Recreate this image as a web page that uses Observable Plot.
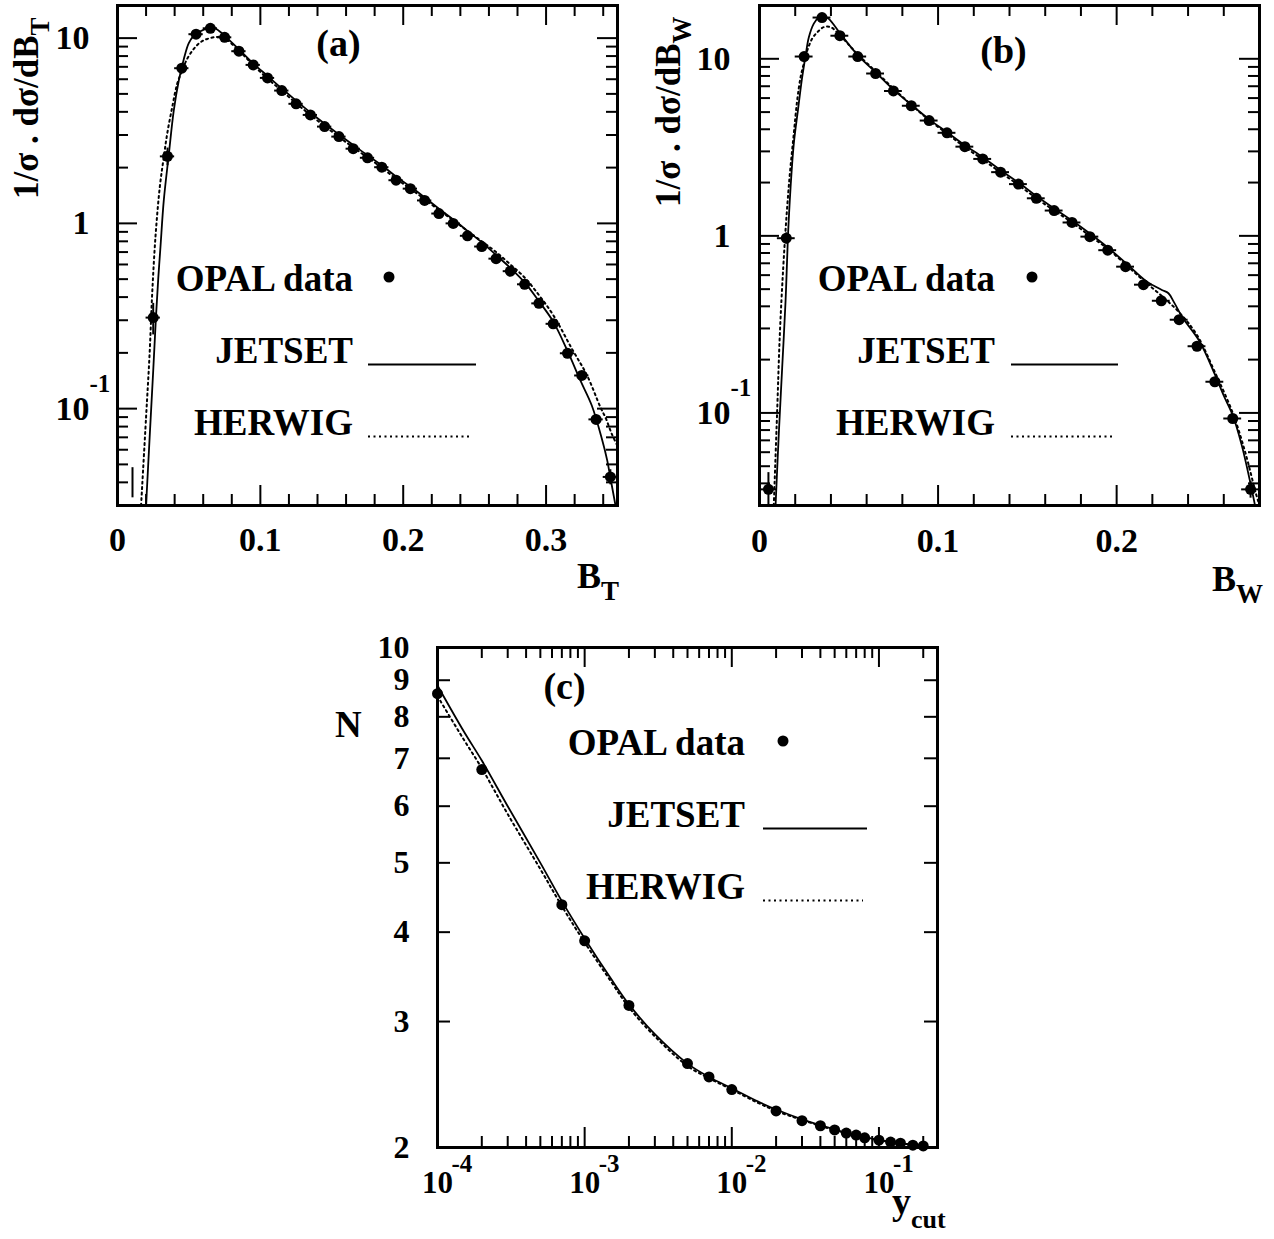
<!DOCTYPE html>
<html><head><meta charset="utf-8">
<script src="https://cdn.jsdelivr.net/npm/d3@7"></script>
<script src="https://cdn.jsdelivr.net/npm/@observablehq/plot@0.6"></script>
<style>
body{margin:0;background:#fff;}
#wrap{position:relative;width:1274px;height:1239px;background:#fff;}
#wrap svg{position:absolute;overflow:visible;}
</style></head><body><div id="wrap"></div>
<script>
// ---------- Panel (a): B_T ----------
const aX = [0.025,0.035,0.045,0.055,0.065,0.075,0.085,0.095,0.105,0.115,0.125,0.135,0.145,0.155,0.165,0.175,0.185,0.195,0.205,0.215,0.225,0.235,0.245,0.255,0.265,0.275,0.285,0.295,0.305,0.315,0.325,0.335,0.345];
const aY = [0.31,2.30,6.88,10.5,11.3,10.1,8.5,7.17,6.1,5.21,4.42,3.85,3.33,2.94,2.53,2.26,2.01,1.71,1.54,1.33,1.13,1.0,0.857,0.75,0.645,0.552,0.469,0.37,0.287,0.199,0.151,0.0875,0.0428];
const aErr = [0.06,0.25,0.3,0.3,0.3,0.3,0.25,0.2,0.18,0.15,0.13,0.11,0.1,0.09,0.08,0.07,0.06,0.05,0.05,0.04,0.035,0.03,0.027,0.024,0.021,0.018,0.016,0.013,0.011,0.008,0.007,0.005,0.004];
const aStrayX = [0.0105], aStrayLo = [0.033], aStrayHi = [0.048];
const aJetX = [0.020,0.0225,0.025,0.0269,0.0285,0.0301,0.0324,0.0359,0.0394,0.0429,0.0464,0.0499,0.0534,0.0581,0.0628,0.0663,0.0721,0.0768,0.085,0.095,0.105,0.115,0.125,0.135,0.145,0.155,0.165,0.175,0.185,0.195,0.205,0.215,0.225,0.235,0.245,0.255,0.265,0.275,0.285,0.295,0.305,0.315,0.324,0.332,0.339,0.3428,0.345,0.3486];
const aJetY = [0.03,0.07,0.16,0.31,0.5,0.75,1.33,2.35,4.07,5.9,7.7,9.4,10.3,10.9,11.3,11.45,10.8,10.0,8.7,7.3,6.25,5.35,4.6,3.97,3.45,3.02,2.65,2.33,2.06,1.79,1.58,1.38,1.2,1.05,0.91,0.79,0.675,0.575,0.48,0.38,0.295,0.205,0.142,0.104,0.069,0.0526,0.0425,0.03];
const aHerX = [0.0165,0.02,0.0225,0.0243,0.0266,0.0296,0.0324,0.0348,0.0383,0.0418,0.0453,0.0488,0.0534,0.0581,0.0628,0.0698,0.0744,0.085,0.095,0.105,0.115,0.125,0.135,0.145,0.155,0.165,0.175,0.185,0.195,0.205,0.215,0.225,0.235,0.245,0.255,0.265,0.275,0.285,0.295,0.305,0.318,0.3287,0.338,0.342,0.346,0.35];
const aHerY = [0.03,0.09,0.2,0.42,0.85,1.57,2.28,3.05,4.24,5.67,6.69,7.73,8.75,9.5,9.9,10.15,10.05,8.55,7.15,6.05,5.2,4.45,3.85,3.35,2.93,2.57,2.27,2.0,1.74,1.54,1.35,1.18,1.04,0.91,0.8,0.7,0.6,0.51,0.41,0.32,0.211,0.151,0.102,0.088,0.073,0.063];
const aXTicks = [0,0.1,0.2,0.3];
const aXMinor = [0.02,0.04,0.06,0.08,0.12,0.14,0.16,0.18,0.22,0.24,0.26,0.28,0.32,0.34];
const aYTicks = [0.1,1,10];

// ---------- Panel (b): B_W ----------
const bX = [0.005,0.015,0.025,0.035,0.045,0.055,0.065,0.075,0.085,0.095,0.105,0.115,0.125,0.135,0.145,0.155,0.165,0.175,0.185,0.195,0.205,0.215,0.225,0.235,0.245,0.255,0.265,0.275];
const bY = [0.037,0.97,10.3,17.1,13.5,10.3,8.26,6.58,5.43,4.48,3.82,3.19,2.72,2.29,1.96,1.63,1.39,1.19,0.99,0.83,0.67,0.53,0.43,0.336,0.238,0.150,0.093,0.037];
const bErr = [0.009,0.07,0.3,0.4,0.3,0.25,0.2,0.16,0.13,0.11,0.09,0.08,0.07,0.06,0.05,0.04,0.035,0.03,0.025,0.022,0.018,0.015,0.012,0.01,0.008,0.006,0.005,0.004];
const bJetX = [0.009,0.0108,0.0127,0.0146,0.0159,0.0174,0.0192,0.0215,0.0239,0.0258,0.0276,0.0304,0.0332,0.0351,0.0388,0.0454,0.055,0.065,0.075,0.085,0.095,0.105,0.115,0.125,0.135,0.145,0.155,0.165,0.175,0.185,0.195,0.206,0.2166,0.2253,0.229,0.232,0.2368,0.2464,0.255,0.26,0.265,0.27,0.2745,0.2775];
const bJetY = [0.03,0.076,0.18,0.43,0.975,1.88,3.31,5.1,7.87,10.4,13.2,15.8,17.2,17.6,16.8,13.8,10.5,8.4,6.7,5.5,4.55,3.85,3.25,2.78,2.35,2.0,1.68,1.43,1.22,1.03,0.86,0.69,0.555,0.495,0.474,0.424,0.347,0.254,0.165,0.125,0.097,0.066,0.042,0.03];
const bHerX = [0.008,0.0099,0.0114,0.0133,0.0151,0.017,0.0192,0.0211,0.023,0.0248,0.0267,0.0295,0.0323,0.036,0.0398,0.0435,0.05,0.055,0.065,0.075,0.085,0.095,0.105,0.115,0.125,0.135,0.145,0.155,0.165,0.175,0.185,0.195,0.205,0.215,0.225,0.235,0.245,0.255,0.265,0.272,0.278,0.28];
const bHerY = [0.03,0.103,0.28,0.665,1.28,2.24,3.77,5.82,7.87,9.4,11.1,13.0,14.1,15.1,15.1,14.1,12.0,10.6,8.5,6.8,5.5,4.5,3.78,3.17,2.7,2.28,1.94,1.63,1.39,1.19,1.0,0.845,0.69,0.56,0.46,0.37,0.275,0.17,0.1,0.06,0.035,0.03];
const bXTicks = [0,0.1,0.2];
const bXMinor = [0.02,0.04,0.06,0.08,0.12,0.14,0.16,0.18,0.22,0.24,0.26];
const bYTicks = [0.1,1,10];

// ---------- Panel (c): N vs y_cut ----------
const cX = [1e-4,2e-4,7e-4,1e-3,2e-3,5e-3,7e-3,1e-2,2e-2,3e-2,4e-2,5e-2,6e-2,7e-2,8e-2,0.1,0.12,0.14,0.17,0.2];
const cY = [8.62,6.75,4.37,3.89,3.16,2.62,2.51,2.41,2.25,2.18,2.145,2.116,2.095,2.082,2.063,2.048,2.035,2.028,2.015,2.01];
const cJetX = [1e-4,1.5e-4,2e-4,3e-4,5e-4,7e-4,1e-3,1.5e-3,2e-3,3e-3,5e-3,7e-3,1e-2,1.5e-2,2e-2,3e-2,5e-2,7e-2,0.1,0.14,0.2];
const cJetY = [8.85,7.65,6.95,6.0,5.0,4.42,3.92,3.45,3.17,2.88,2.62,2.51,2.42,2.32,2.26,2.19,2.12,2.08,2.05,2.028,2.01];
const cHerX = [1e-4,1.5e-4,2e-4,3e-4,5e-4,7e-4,1e-3,1.5e-3,2e-3,3e-3,5e-3,7e-3,1e-2,1.5e-2,2e-2,3e-2,5e-2,7e-2,0.1,0.14,0.2];
const cHerY = [8.55,7.45,6.78,5.85,4.9,4.35,3.87,3.42,3.14,2.86,2.6,2.5,2.41,2.31,2.25,2.185,2.115,2.078,2.048,2.027,2.01];
const cXTicks = [1e-4,1e-3,1e-2,1e-1];
const cXExp = ["-4","-3","-2","-1"];
const cYTicks = [2,3,4,5,6,7,8,9,10];

const legendLabels = ["OPAL data","JETSET","HERWIG"];
const FONT = "Liberation Serif, Times New Roman, serif";

function logMinor(domain) {
  const out = [];
  for (let e = -6; e <= 2; e++) for (let k = 2; k <= 9; k++) {
    const v = k * Math.pow(10, e);
    if (v > domain[0] * 1.0001 && v < domain[1] * 0.9999) out.push(v);
  }
  return out;
}

function tickMarks({xMajor, xMinor, yMajor, yMinor, W, H, xMaj = 20, xMin = 11, yMaj = 20, yMin = 11}) {
  const s = {stroke: "black", strokeWidth: 2};
  return [
    Plot.ruleX(xMajor, {x: d => d, insetTop: H - xMaj, ...s}),
    Plot.ruleX(xMajor, {x: d => d, insetBottom: H - xMaj, ...s}),
    Plot.ruleX(xMinor, {x: d => d, insetTop: H - xMin, ...s}),
    Plot.ruleX(xMinor, {x: d => d, insetBottom: H - xMin, ...s}),
    Plot.ruleY(yMajor, {y: d => d, insetRight: W - yMaj, ...s}),
    Plot.ruleY(yMajor, {y: d => d, insetLeft: W - yMaj, ...s}),
    Plot.ruleY(yMinor, {y: d => d, insetRight: W - yMin, ...s}),
    Plot.ruleY(yMinor, {y: d => d, insetLeft: W - yMin, ...s})
  ];
}

function dataMarks(X, Y, E, halfBin) {
  const pts = X.map((x, i) => ({x, y: Y[i], lo: Y[i] - E[i], hi: Y[i] + E[i]}));
  return [
    Plot.ruleY(pts, {y: "y", x1: d => d.x - halfBin, x2: d => d.x + halfBin, stroke: "black", strokeWidth: 2, clip: true}),
    Plot.ruleX(pts, {x: "x", y1: "lo", y2: "hi", stroke: "black", strokeWidth: 2, clip: true}),
    Plot.dot(pts, {x: "x", y: "y", r: 5.5, fill: "black"})
  ];
}

function curveMarks(jx, jy, hx, hy) {
  const j = jx.map((x, i) => ({x, y: jy[i]}));
  const h = hx.map((x, i) => ({x, y: hy[i]}));
  return [
    Plot.line(h, {x: "x", y: "y", curve: "catmull-rom", stroke: "black", strokeWidth: 2, strokeDasharray: "2,3.5", clip: true}),
    Plot.line(j, {x: "x", y: "y", curve: "catmull-rom", stroke: "black", strokeWidth: 1.8, clip: true})
  ];
}

const txt = {fontFamily: FONT, fontWeight: "bold", fill: "black"};

function place(svg, left, top) {
  svg.style.left = left + "px";
  svg.style.top = top + "px";
  document.getElementById("wrap").appendChild(svg);
}

function addLegend(svg, {tx, y0, dotX, x1, x2, step = 72}) {
  const g = d3.select(svg).append("g").attr("font-family", FONT).attr("font-weight", "bold")
    .attr("font-size", 37).attr("text-anchor", "end").attr("fill", "black");
  legendLabels.forEach((lab, i) => g.append("text").attr("x", tx).attr("y", y0 + i * step).text(lab));
  g.append("circle").attr("cx", dotX).attr("cy", y0 - 14).attr("r", 5.5).attr("fill", "black");
  g.append("line").attr("x1", x1).attr("x2", x2).attr("y1", y0 + step + 1.5).attr("y2", y0 + step + 1.5)
    .attr("stroke", "black").attr("stroke-width", 1.8);
  g.append("line").attr("x1", x1).attr("x2", x2 - 4).attr("y1", y0 + 2 * step + 1.5).attr("y2", y0 + 2 * step + 1.5)
    .attr("stroke", "black").attr("stroke-width", 2).attr("stroke-dasharray", "2,3.5");
}

function addText(svg, x, y, parts, {size = 36, rotate = 0, anchor = "start"} = {}) {
  const t = d3.select(svg).append("text")
    .attr("transform", `translate(${x},${y}) rotate(${rotate})`)
    .attr("font-family", FONT).attr("font-weight", "bold").attr("font-size", size)
    .attr("text-anchor", anchor).attr("fill", "black");
  parts.forEach(p => {
    const ts = t.append("tspan").text(p.t);
    if (p.size) ts.attr("font-size", p.size);
    if (p.dy) ts.attr("dy", p.dy);
  });
}

// ---------- build panel (a) ----------
{
  const W = 500, H = 500, yDom = [0.03, 15];
  const svg = Plot.plot({
    width: 637, height: 620, marginLeft: 117, marginTop: 5, marginRight: 20, marginBottom: 115,
    x: {domain: [0, 0.35], axis: null},
    y: {type: "log", domain: yDom, axis: null},
    style: {background: "transparent", overflow: "visible"},
    marks: [
      ...tickMarks({xMajor: aXTicks, xMinor: aXMinor, yMajor: aYTicks, yMinor: logMinor(yDom), W, H}),
      ...curveMarks(aJetX, aJetY, aHerX, aHerY),
      Plot.ruleX(aStrayX.map((x, i) => ({x, lo: aStrayLo[i], hi: aStrayHi[i]})), {x: "x", y1: "lo", y2: "hi", stroke: "black", strokeWidth: 2}),
      ...dataMarks(aX, aY, aErr, 0.005),
      Plot.frame({stroke: "black", strokeWidth: 3}),
      Plot.text(aXTicks, {x: d => d, text: d => String(d), frameAnchor: "bottom", dy: 45, lineAnchor: "bottom", fontSize: 34, ...txt}),
      Plot.text(aYTicks, {y: d => d, text: d => (d === 0.1 ? "10" : String(d)), frameAnchor: "left", textAnchor: "end", dx: -28, lineAnchor: "middle", fontSize: 34, ...txt}),
      Plot.text([0.1], {y: d => d, text: ["-1"], frameAnchor: "left", textAnchor: "start", dx: -28, dy: -25, lineAnchor: "middle", fontSize: 25, ...txt}),
      Plot.text(["(a)"], {frameAnchor: "top-left", dx: 221, dy: 50, textAnchor: "middle", lineAnchor: "bottom", fontSize: 38, ...txt})
    ]
  });
  addText(svg, 38, 199, [{t: "1/σ . dσ/dB"}, {t: "T", size: 27, dy: 11}], {size: 35, rotate: -90});
  addText(svg, 577, 588, [{t: "B"}, {t: "T", size: 27, dy: 12}], {size: 36});
  addLegend(svg, {tx: 353, y0: 291, dotX: 389, x1: 368, x2: 476});
  place(svg, 0, 0);
}

// ---------- build panel (b) ----------
{
  const W = 500, H = 500, yDom = [0.03, 20];
  const svg = Plot.plot({
    width: 637, height: 620, marginLeft: 122, marginTop: 5, marginRight: 15, marginBottom: 115,
    x: {domain: [0, 0.28], axis: null},
    y: {type: "log", domain: yDom, axis: null},
    style: {background: "transparent", overflow: "visible"},
    marks: [
      ...tickMarks({xMajor: bXTicks, xMinor: bXMinor, yMajor: bYTicks, yMinor: logMinor(yDom), W, H}),
      ...curveMarks(bJetX, bJetY, bHerX, bHerY),
      ...dataMarks(bX, bY, bErr, 0.005),
      Plot.frame({stroke: "black", strokeWidth: 3}),
      Plot.text(bXTicks, {x: d => d, text: d => String(d), frameAnchor: "bottom", dy: 46, lineAnchor: "bottom", fontSize: 34, ...txt}),
      Plot.text(bYTicks, {y: d => d, text: d => (d === 0.1 ? "10" : String(d)), frameAnchor: "left", textAnchor: "end", dx: -29, lineAnchor: "middle", fontSize: 34, ...txt}),
      Plot.text([0.1], {y: d => d, text: ["-1"], frameAnchor: "left", textAnchor: "start", dx: -29, dy: -25, lineAnchor: "middle", fontSize: 25, ...txt}),
      Plot.text(["(b)"], {frameAnchor: "top-left", dx: 244, dy: 57, textAnchor: "middle", lineAnchor: "bottom", fontSize: 38, ...txt})
    ]
  });
  addText(svg, 43, 207, [{t: "1/σ . dσ/dB"}, {t: "W", size: 27, dy: 11}], {size: 35, rotate: -90});
  addText(svg, 575, 591, [{t: "B"}, {t: "W", size: 27, dy: 12}], {size: 36});
  addLegend(svg, {tx: 358, y0: 291, dotX: 395, x1: 374, x2: 481});
  place(svg, 637, 0);
}

// ---------- build panel (c) ----------
{
  const W = 500, H = 500, xDom = [1e-4, 0.25], yDom = [2, 10];
  const svg = Plot.plot({
    width: 660, height: 619, marginLeft: 137, marginTop: 27, marginRight: 23, marginBottom: 92,
    x: {type: "log", domain: xDom, axis: null},
    y: {type: "log", domain: yDom, axis: null},
    style: {background: "transparent", overflow: "visible"},
    marks: [
      ...tickMarks({xMajor: cXTicks, xMinor: logMinor(xDom), yMajor: [], yMinor: cYTicks, W, H, yMin: 13}),
      ...curveMarks(cJetX, cJetY, cHerX, cHerY),
      Plot.dot(cX.map((x, i) => ({x, y: cY[i]})), {x: "x", y: "y", r: 5.5, fill: "black"}),
      Plot.frame({stroke: "black", strokeWidth: 3}),
      Plot.text(cXTicks, {x: d => d, text: () => "10", frameAnchor: "bottom", dy: 45, lineAnchor: "bottom", fontSize: 31, ...txt}),
      Plot.text(cXTicks, {x: d => d, text: (d, i) => cXExp[i], frameAnchor: "bottom", textAnchor: "start", dx: 14, dy: 24, lineAnchor: "bottom", fontSize: 25, ...txt}),
      Plot.text(cYTicks, {y: d => d, text: d => String(d), frameAnchor: "left", textAnchor: "end", dx: -28, lineAnchor: "middle", fontSize: 32, ...txt}),
      Plot.text(["(c)"], {frameAnchor: "top-left", dx: 127, dy: 51, textAnchor: "middle", lineAnchor: "bottom", fontSize: 38, ...txt})
    ]
  });
  addText(svg, 35, 117, [{t: "N"}], {size: 37});
  addText(svg, 592, 594, [{t: "y"}, {t: "cut", size: 26, dy: 14}], {size: 38});
  addLegend(svg, {tx: 445, y0: 135, dotX: 483, x1: 463, x2: 567});
  place(svg, 300, 620);
}
</script></body></html>
